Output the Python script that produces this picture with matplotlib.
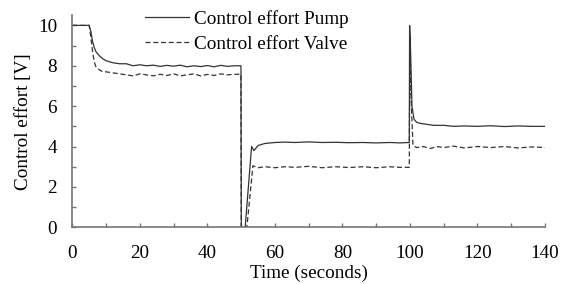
import numpy as np
import matplotlib
matplotlib.use("Agg")
import matplotlib.pyplot as plt
from matplotlib.ticker import MultipleLocator

plt.rcParams['font.family'] = ['Liberation Serif', 'DejaVu Serif']

# values
t_pump = [0, 5, 5.5, 6, 6.5, 7, 8, 9, 10, 11, 12, 14, 16, 18, 20, 22, 24, 26, 28,
          30, 32, 34, 36, 38, 40, 42, 44, 46, 48, 49.95, 50.05, 51.2, 53.1, 53.8,
          55, 57, 60, 63, 66, 70, 74, 78, 82, 86, 90, 94, 97, 99.8, 99.9, 100.1,
          100.6, 101.2, 102, 103, 105, 107, 110, 113, 116, 120, 124, 128, 132,
          136, 140]
v_pump = [10, 10, 9.7, 9.2, 8.9, 8.7, 8.5, 8.35, 8.25, 8.2, 8.15, 8.1, 8.1, 8.0,
          8.05, 8.0, 8.03, 7.97, 8.02, 7.98, 8.03, 7.95, 8.0, 7.96, 8.01, 7.95,
          8.02, 7.97, 8.0, 8.0, 0, 0, 4.0, 3.8, 4.05, 4.15, 4.2, 4.22, 4.2, 4.23,
          4.2, 4.21, 4.19, 4.2, 4.18, 4.2, 4.18, 4.2, 10, 9.3, 6.0, 5.35, 5.2,
          5.15, 5.1, 5.05, 5.05, 5.0, 5.02, 5.0, 5.03, 4.99, 5.02, 5.0, 5.0]

t_valve = [0, 5, 5.5, 6, 6.5, 7, 8, 9, 10, 12, 14, 16, 18, 20, 22, 24, 26, 28, 30,
           32, 34, 36, 38, 40, 42, 44, 46, 48, 49.95, 50.05, 51.7, 53.5, 55, 57,
           60, 63, 66, 70, 74, 78, 82, 86, 90, 94, 97, 99.8, 100.0, 100.3, 100.9,
           102, 104, 106, 108, 110, 113, 116, 120, 124, 128, 132, 136, 140]
v_valve = [10, 10, 9.4, 8.7, 8.2, 7.95, 7.8, 7.7, 7.7, 7.65, 7.6, 7.55, 7.5, 7.6,
           7.55, 7.5, 7.58, 7.52, 7.6, 7.5, 7.55, 7.6, 7.5, 7.57, 7.52, 7.6, 7.55,
           7.58, 7.58, 0, 0, 3.05, 2.95, 3.0, 2.95, 3.0, 2.97, 3.02, 2.95, 3.0,
           2.96, 3.0, 2.95, 3.0, 2.97, 2.97, 9.3, 6.5, 4.05, 3.95, 4.0, 3.9, 4.0,
           3.95, 4.02, 3.93, 4.0, 3.95, 4.0, 3.93, 3.98, 3.95]

fs = 13.8

fig = plt.figure(figsize=(5.65, 2.84), dpi=100)
ax = fig.add_axes([72.3 / 565, 1 - 227.3 / 284, (545 - 72.3) / 565, 212 / 284])

ax.plot(t_pump, v_pump, color='#333333', lw=0.9, label='Control effort Pump')
ax.plot(t_valve, v_valve, color='#333333', lw=0.9, dashes=(4, 2.2),
        label='Control effort Valve')

ax.set_xlim(0, 140)
ax.set_ylim(0, 10.5)
ax.xaxis.set_major_locator(MultipleLocator(20))
ax.xaxis.set_minor_locator(MultipleLocator(10))
ax.yaxis.set_major_locator(MultipleLocator(2))
ax.yaxis.set_minor_locator(MultipleLocator(1))
ax.tick_params(which='both', direction='in', length=3, width=1, color='#777777',
               labelsize=fs)
ax.tick_params(axis='x', pad=12.5)
ax.tick_params(axis='y', pad=11)
for s in ['top', 'right']:
    ax.spines[s].set_visible(False)
for s in ['left', 'bottom']:
    ax.spines[s].set_color('#777777')
    ax.spines[s].set_linewidth(1.2)

ax.set_xlabel('Time (seconds)', fontsize=fs, labelpad=2)
ax.set_ylabel('Control effort [V]', fontsize=fs, labelpad=4)

leg = ax.legend(loc='upper left', bbox_to_anchor=(145 / 565, 1 - 10 / 284),
                bbox_transform=fig.transFigure, frameon=False, fontsize=fs,
                handlelength=2.3, handletextpad=0.25, labelspacing=0.4,
                borderpad=0, borderaxespad=0)

fig.savefig('out.png', dpi=100)
